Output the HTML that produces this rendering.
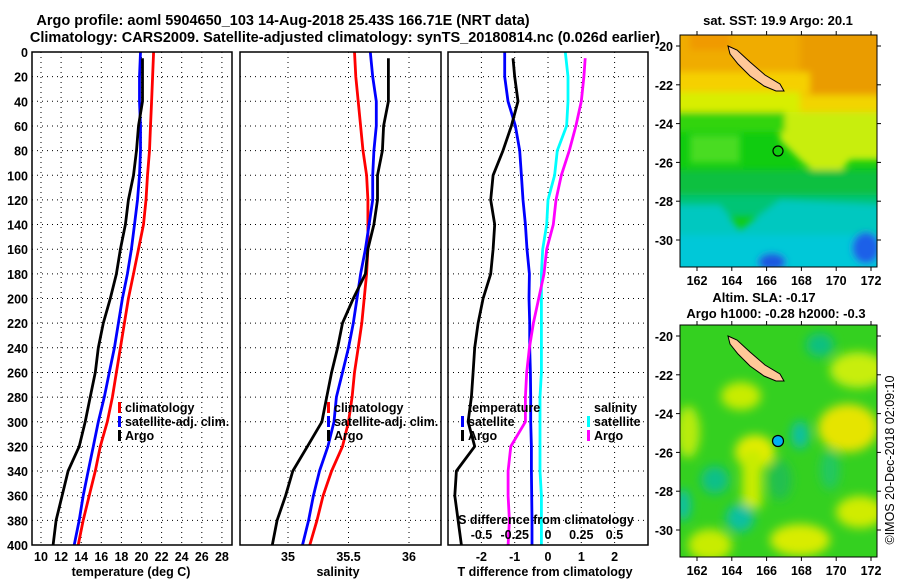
<!DOCTYPE html>
<html><head><meta charset="utf-8">
<style>
html,body{margin:0;padding:0;background:#fff;}
svg{display:block;font-family:"Liberation Sans",Arial,sans-serif;font-weight:bold;}
</style></head>
<body>
<svg id="chart" width="900" height="580" viewBox="0 0 900 580" xmlns="http://www.w3.org/2000/svg">
<defs>
<filter id="blur1" x="-20%" y="-20%" width="140%" height="140%"><feGaussianBlur stdDeviation="3.5"/></filter>
<filter id="blur2" x="-30%" y="-30%" width="160%" height="160%"><feGaussianBlur stdDeviation="5"/></filter>
<clipPath id="clipm1"><rect x="680" y="35" width="197" height="232"/></clipPath>
<clipPath id="clipm2"><rect x="680" y="325" width="197" height="232"/></clipPath>
</defs>
<text x="283" y="25" font-size="14.5" text-anchor="middle">Argo profile: aoml 5904650_103 14-Aug-2018 25.43S 166.71E (NRT data)</text>
<text x="345" y="42" font-size="14.5" text-anchor="middle">Climatology: CARS2009. Satellite-adjusted climatology: synTS_20180814.nc (0.026d earlier)</text>
<g id="panels"></g>

<!-- Map 1: SST -->
<g>
<text x="778" y="25" font-size="13" text-anchor="middle">sat. SST: 19.9 Argo: 20.1</text>
<g clip-path="url(#clipm1)">
<rect x="680" y="35" width="197" height="232" fill="#10cc10"/>
<g filter="url(#blur1)">
<rect x="670" y="25" width="220" height="50" fill="#f0ac00"/>
<rect x="690" y="25" width="40" height="25" fill="#f09a00"/>
<rect x="800" y="25" width="90" height="75" fill="#ea9c00"/>
<rect x="670" y="72" width="140" height="22" fill="#f5d000"/>
<rect x="800" y="95" width="90" height="22" fill="#f2d400"/>
<rect x="670" y="92" width="130" height="20" fill="#d8ee00"/>
<polygon points="780,112 890,112 890,160 850,160 830,185 800,160 780,140" fill="#c8ee10"/>
<rect x="670" y="112" width="115" height="20" fill="#30d410"/>
<rect x="690" y="135" width="50" height="28" fill="#48dc20"/>
<rect x="670" y="170" width="220" height="28" fill="#08c040"/>
<rect x="670" y="195" width="220" height="22" fill="#00c474"/>
<polygon points="670,205 720,205 740,230 780,200 890,205 890,280 670,280" fill="#00c8c0"/>
<rect x="670" y="235" width="220" height="45" fill="#00c8d8"/>
<ellipse cx="772" cy="262" rx="14" ry="9" fill="#1a58e0"/>
<ellipse cx="866" cy="248" rx="14" ry="16" fill="#1a60e8"/>
</g>
</g>
<polygon points="728,46 737,50 750,62 765,75 780,84 784,91 776,91 764,86 750,76 738,64 730,54" fill="#ffc898" stroke="#000" stroke-width="1"/>
<circle cx="778" cy="151" r="5" fill="none" stroke="#000" stroke-width="1.2"/>
<rect x="680" y="35" width="197" height="232" fill="none" stroke="#000" stroke-width="1"/>
<g id="m1axes"></g>
</g>

<!-- Map 2: SLA -->
<g>
<text x="764" y="302" font-size="13" text-anchor="middle">Altim. SLA: -0.17</text>
<text x="776" y="318" font-size="13" text-anchor="middle">Argo h1000: -0.28 h2000: -0.3</text>
<g clip-path="url(#clipm2)">
<rect x="680" y="325" width="197" height="232" fill="#34d020"/>
<g filter="url(#blur2)">
<ellipse cx="755" cy="452" rx="20" ry="17" fill="#e4ec00"/>
<rect x="742" y="450" width="20" height="58" fill="#c8ec00"/>
<ellipse cx="848" cy="428" rx="30" ry="24" fill="#e6e400"/>
<ellipse cx="741" cy="396" rx="20" ry="14" fill="#c8ec00"/>
<ellipse cx="858" cy="370" rx="28" ry="18" fill="#c8ee10"/>
<ellipse cx="688" cy="432" rx="12" ry="26" fill="#b8ec10"/>
<ellipse cx="800" cy="540" rx="30" ry="16" fill="#d8ec00"/>
<ellipse cx="860" cy="512" rx="24" ry="16" fill="#d0ec00"/>
<ellipse cx="710" cy="545" rx="22" ry="16" fill="#c8ec00"/>
<ellipse cx="820" cy="345" rx="14" ry="12" fill="#10c080"/>
<ellipse cx="715" cy="480" rx="14" ry="14" fill="#10c088"/>
<ellipse cx="740" cy="518" rx="14" ry="14" fill="#10c0a0"/>
<ellipse cx="683" cy="505" rx="8" ry="16" fill="#10c0a0"/>
<ellipse cx="800" cy="435" rx="9" ry="14" fill="#10c0a0"/>
<ellipse cx="830" cy="470" rx="10" ry="20" fill="#20c860"/>
<ellipse cx="780" cy="480" rx="12" ry="20" fill="#20c050"/>
</g>
</g>
<polygon points="728,336 737,340 750,352 765,365 780,374 784,381 776,381 764,376 750,366 738,354 730,344" fill="#ffc898" stroke="#000" stroke-width="1"/>
<circle cx="778" cy="441" r="5.5" fill="#00b0f0" stroke="#000" stroke-width="1.2"/>
<rect x="680" y="325" width="197" height="232" fill="none" stroke="#000" stroke-width="1"/>
<g id="m2axes"></g>
</g>
<text x="0" y="0" font-size="12.5" font-weight="normal" text-anchor="middle" transform="translate(894,460) rotate(-90)">©IMOS 20-Dec-2018 02:09:10</text>
</svg>
<script>
// ---- data (depth in m) ----
const depths = [0,20,40,60,80,100,120,140,160,180,200,220,240,260,280,300,320,340,360,380,400];
const argoDepths = [5,20,40,60,80,100,120,140,160,180,200,220,240,260,280,300,320,340,360,380,400];
const tempClim = [21.2,21.1,21.0,20.9,20.8,20.6,20.45,20.2,19.7,19.2,18.7,18.3,17.9,17.5,17.1,16.6,15.9,15.4,14.8,14.2,13.7];
const tempSat = [19.9,19.8,19.8,19.9,19.9,19.8,19.6,19.3,19.0,18.6,18.1,17.7,17.3,16.8,16.3,15.7,15.2,14.7,14.2,13.8,13.3];
const tempArgo = [20.1,20.1,20.1,19.7,19.5,19.2,18.7,18.4,17.9,17.5,16.9,16.2,15.7,15.4,14.9,14.4,13.8,12.7,12.1,11.5,11.2];
const salClim = [35.55,35.56,35.58,35.60,35.62,35.65,35.66,35.66,35.66,35.65,35.63,35.61,35.58,35.55,35.53,35.50,35.45,35.36,35.29,35.24,35.18];
const salSat = [35.68,35.70,35.73,35.73,35.71,35.70,35.70,35.67,35.64,35.60,35.57,35.54,35.50,35.45,35.40,35.38,35.33,35.26,35.21,35.17,35.12];
const salArgo = [35.83,35.83,35.83,35.79,35.78,35.74,35.74,35.71,35.66,35.64,35.54,35.45,35.41,35.36,35.32,35.28,35.16,35.04,34.98,34.91,34.87];
const dTSat = [-1.3,-1.3,-1.2,-0.98,-0.85,-0.8,-0.75,-0.68,-0.63,-0.56,-0.57,-0.55,-0.55,-0.53,-0.52,-0.52,-0.5,-0.5,-0.49,-0.48,-0.48];
const dTArgo = [-1.05,-1.0,-0.9,-1.1,-1.35,-1.65,-1.72,-1.6,-1.65,-1.72,-1.95,-2.1,-2.2,-2.25,-2.3,-2.4,-2.2,-2.75,-2.8,-2.7,-2.6];
const dSSat = [0.13,0.15,0.15,0.14,0.07,0.05,0.0,-0.01,-0.04,-0.05,-0.05,-0.05,-0.05,-0.05,-0.06,-0.06,-0.06,-0.06,-0.05,-0.05,-0.05];
const dSArgo = [0.28,0.27,0.25,0.21,0.16,0.10,0.06,0.04,-0.01,-0.03,-0.07,-0.11,-0.14,-0.16,-0.17,-0.17,-0.28,-0.30,-0.30,-0.29,-0.30];
const depthTicks = [0,20,40,60,80,100,120,140,160,180,200,220,240,260,280,300,320,340,360,380,400];
const tempTicks = [10,12,14,16,18,20,22,24,26,28];
const salTicks = [35,35.5,36];
const salTickLabels = ["35","35.5","36"];
const dTTicks = [-2,-1,0,1,2];
const dSTicks = [-0.5,-0.25,0,0.25,0.5];
const dSTickLabels = ["-0.5","-0.25","0","0.25","0.5"];
const mapLonTicks = [162,164,166,168,170,172];
const mapLatTicks = [-20,-22,-24,-26,-28,-30];

const NS = "http://www.w3.org/2000/svg";
const yD = d => 52 + d * 1.2325;
const xT = t => 41 + (t - 10) * 10.05;
const xS = s => 288 + (s - 35) * 121;
const xDT = d => 548 + d * 33.3;
const xDS = d => 548 + d * 133;
const lonX = l => 697 + (l - 162) * 17.4;
const latY1 = l => 46 + (-20 - l) * 19.4;
const latY2 = l => 336 + (-20 - l) * 19.4;

function el(tag, attrs, parent) {
  const e = document.createElementNS(NS, tag);
  for (const k in attrs) e.setAttribute(k, attrs[k]);
  parent.appendChild(e);
  return e;
}
const root = document.getElementById('panels');

function panel(name, x0, x1, gridXs) {
  const g = el('g', {}, root);
  
  
  depthTicks.forEach(d => {
    if (d === 0 || d === 400) return;
    const l = el('line', {x1: x0, x2: x1, y1: yD(d), y2: yD(d), stroke: '#000', 'stroke-width': 1, 'stroke-dasharray': '1,4'}, g);
    
    
  });
  gridXs.forEach(x => {
    const l = el('line', {x1: x, x2: x, y1: 52, y2: 545, stroke: '#000', 'stroke-width': 1, 'stroke-dasharray': '1,4'}, g);
    
    
  });
  return g;
}
function frame(g, x0, x1) {
  const r = el('rect', {x: x0, y: 52, width: x1 - x0, height: 493, fill: 'none', stroke: '#000', 'stroke-width': 1.5}, g);
  
  
}
function series(g, name, ds, vals, fx, color) {
  const pts = vals.map((v, i) => fx(v).toFixed(1) + ',' + yD(ds[i]).toFixed(1)).join(' ');
  const p = el('polyline', {points: pts, fill: 'none', stroke: color, 'stroke-width': 2.8, 'stroke-linejoin': 'round'}, g);
  
  
}
function txt(g, name, x, y, s, size, anchor, weight) {
  const t = el('text', {x: x, y: y, 'font-size': size, 'text-anchor': anchor || 'start'}, g);
  if (weight) t.setAttribute('font-weight', weight);
  t.textContent = s;
  
  
  return t;
}
function legendEntry(g, name, x, y, color, label) {
  const m = el('rect', {x: x, y: y - 10, width: 3, height: 11, fill: color}, g);
  
  
  txt(g, name, x + 7, y, label, 12.5);
}

// Panel 1: temperature
const p1 = panel('temperature-panel', 32, 232, tempTicks.map(xT));
series(p1, 'temp-climatology-line', depths, tempClim, xT, '#ff0000');
series(p1, 'temp-satellite-line', depths, tempSat, xT, '#0000ff');
series(p1, 'temp-argo-line', argoDepths, tempArgo, xT, '#000000');
frame(p1, 32, 232);
depthTicks.forEach(d => txt(p1, 'depth-tick-label', 28, yD(d) + 5, String(d), 12.5, 'end'));
tempTicks.forEach(t => txt(p1, 'temp-tick-label', xT(t), 561, String(t), 12.5, 'middle'));
txt(p1, 'x-axis-title-temperature', 131, 576, 'temperature (deg C)', 12.5, 'middle');
legendEntry(p1, 'legend-climatology', 118, 412, '#ff0000', 'climatology');
legendEntry(p1, 'legend-satellite-adj', 118, 426, '#0000ff', 'satellite-adj. clim.');
legendEntry(p1, 'legend-argo', 118, 440, '#000000', 'Argo');

// Panel 2: salinity
const p2 = panel('salinity-panel', 240, 441, salTicks.map(xS));
series(p2, 'sal-climatology-line', depths, salClim, xS, '#ff0000');
series(p2, 'sal-satellite-line', depths, salSat, xS, '#0000ff');
series(p2, 'sal-argo-line', argoDepths, salArgo, xS, '#000000');
frame(p2, 240, 441);
salTicks.forEach((s, i) => txt(p2, 'sal-tick-label', xS(s), 561, salTickLabels[i], 12.5, 'middle'));
txt(p2, 'x-axis-title-salinity', 338, 576, 'salinity', 12.5, 'middle');
legendEntry(p2, 'legend-climatology-sal', 327, 412, '#ff0000', 'climatology');
legendEntry(p2, 'legend-satellite-adj-sal', 327, 426, '#0000ff', 'satellite-adj. clim.');
legendEntry(p2, 'legend-argo-sal', 327, 440, '#000000', 'Argo');

// Panel 3: differences
const p3 = panel('difference-panel', 448, 648, dTTicks.map(xDT));
series(p3, 'dT-satellite-line', depths, dTSat, xDT, '#0000ff');
series(p3, 'dT-argo-line', argoDepths, dTArgo, xDT, '#000000');
series(p3, 'dS-satellite-line', depths, dSSat, xDS, '#00ffff');
series(p3, 'dS-argo-line', argoDepths, dSArgo, xDS, '#ff00ff');
frame(p3, 448, 648);
dTTicks.forEach(t => txt(p3, 'dT-tick-label', xDT(t), 561, String(t), 12.5, 'middle'));
txt(p3, 'x-axis-title-dT', 545, 576, 'T difference from climatology', 12.5, 'middle');
txt(p3, 'x-axis-title-dS', 546, 524, 'S difference from climatology', 12.5, 'middle');
dSTicks.forEach((t, i) => txt(p3, 'dS-tick-label', xDS(t), 539, dSTickLabels[i], 12.5, 'middle'));
txt(p3, 'legend-temperature-header', 468, 412, 'temperature', 12.5);
legendEntry(p3, 'legend-dT-satellite', 461, 426, '#0000ff', 'satellite');
legendEntry(p3, 'legend-dT-argo', 461, 440, '#000000', 'Argo');
txt(p3, 'legend-salinity-header', 594, 412, 'salinity', 12.5);
legendEntry(p3, 'legend-dS-satellite', 587, 426, '#00ffff', 'satellite');
legendEntry(p3, 'legend-dS-argo', 587, 440, '#ff00ff', 'Argo');

// Map axes
function mapAxes(id, latY, top, bottom, labelY) {
  const g = document.getElementById(id);
  mapLonTicks.forEach(l => {
    el('line', {x1: lonX(l), x2: lonX(l), y1: top, y2: top - 4, stroke: '#000'}, g);
    el('line', {x1: lonX(l), x2: lonX(l), y1: bottom, y2: bottom + 4, stroke: '#000'}, g);
    txt(g, 'map-lon-label', lonX(l), labelY, String(l), 12.5, 'middle');
  });
  mapLatTicks.forEach(l => {
    el('line', {x1: 877, x2: 881, y1: latY(l), y2: latY(l), stroke: '#000'}, g);
    el('line', {x1: 676, x2: 680, y1: latY(l), y2: latY(l), stroke: '#000'}, g);
    txt(g, 'map-lat-label', 673, latY(l) + 5, String(l), 12.5, 'end');
  });
}
mapAxes('m1axes', latY1, 35, 267, 285);
mapAxes('m2axes', latY2, 325, 557, 575);
</script>
</body></html>
